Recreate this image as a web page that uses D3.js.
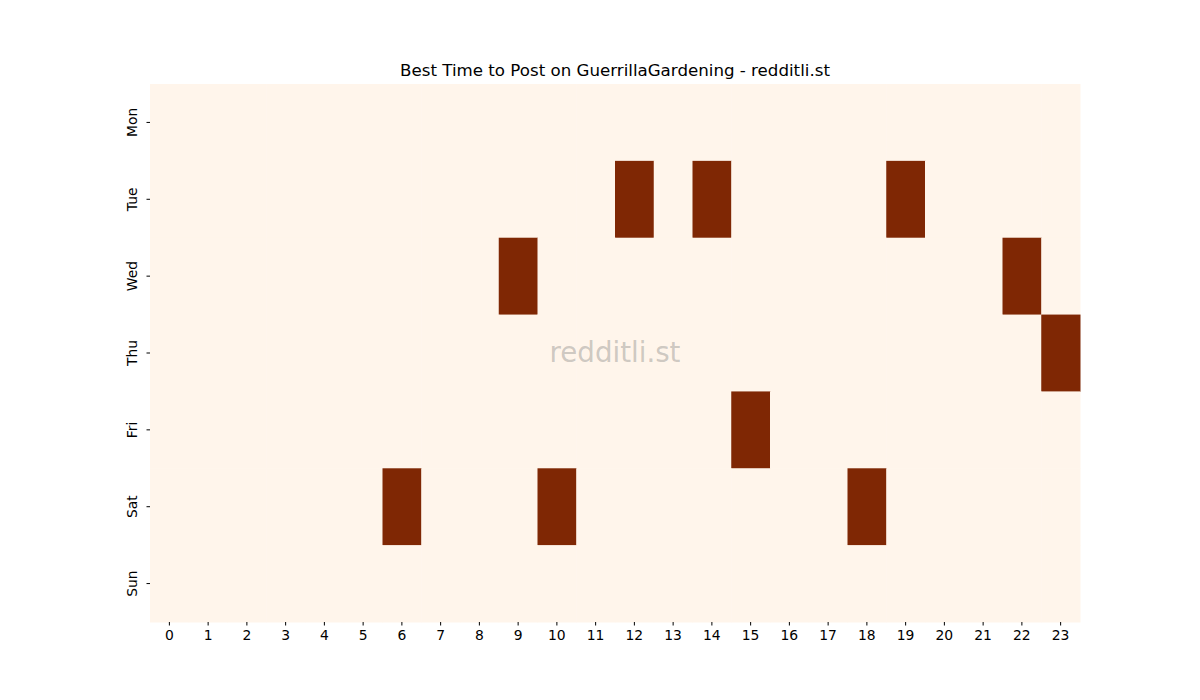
<!DOCTYPE html>
<html>
<head>
<meta charset="utf-8">
<script src="https://cdn.jsdelivr.net/npm/d3@7"></script>
<style>
  body { margin: 0; background: #fff; }
  svg text { font-family: "DejaVu Sans", sans-serif; }
</style>
</head>
<body>
<div id="chart"></div>
<script>
// Data
const days = ["Mon", "Tue", "Wed", "Thu", "Fri", "Sat", "Sun"];
const hours = d3.range(24);
// hours flagged as best for each day (value 1), everything else 0
const bestHours = {
    Mon: [],
    Tue: [12, 14, 19],
    Wed: [9, 22],
    Thu: [23],
    Fri: [15],
    Sat: [6, 10, 18],
    Sun: []
};

const W = 1200, H = 700;
const margin = { top: 84, right: 120, bottom: 78, left: 150 };
const width = W - margin.left - margin.right;
const height = H - margin.top - margin.bottom;

const cells = [];
days.forEach(day => hours.forEach(h => {
    cells.push({ day, hour: h, value: bestHours[day].includes(h) ? 1 : 0 });
}));

const svg = d3.select("#chart").append("svg").attr("width", W).attr("height", H);
const g = svg.append("g").attr("transform", `translate(${margin.left},${margin.top})`);

const x = d3.scaleBand().domain(hours).range([0, width]);
const y = d3.scaleBand().domain(days).range([0, height]);
const color = d3.scaleSequential(d3.interpolateOranges).domain([0, 1]);

// Cells
g.selectAll("rect.cell").data(cells).enter().append("rect")
    .attr("class", "cell")
    .attr("x", d => x(d.hour))
    .attr("y", d => y(d.day))
    .attr("width", x.bandwidth() + 0.5)
    .attr("height", y.bandwidth() + 0.5)
    .attr("fill", d => color(d.value));

// Axes
const xAxis = g.append("g").attr("transform", `translate(0,${height})`)
    .call(d3.axisBottom(x).tickSize(3.5).tickPadding(5));
xAxis.select(".domain").remove();
xAxis.selectAll("text").style("font-size", "13.9px").attr("fill", "#000");
xAxis.selectAll("line").attr("stroke", "#000");

const yAxis = g.append("g")
    .call(d3.axisLeft(y).tickSize(3.5).tickPadding(5));
yAxis.select(".domain").remove();
yAxis.selectAll("line").attr("stroke", "#000");
yAxis.selectAll("text")
    .style("font-size", "13.9px")
    .attr("fill", "#000")
    .attr("text-anchor", "middle")
    .attr("dy", null)
    .attr("x", null)
    .attr("transform", "translate(-18,0) rotate(-90)")
    .attr("dominant-baseline", "central");

// Title
svg.append("text")
    .attr("x", margin.left + width / 2)
    .attr("y", margin.top - 8)
    .attr("text-anchor", "middle")
    .style("font-size", "16.67px")
    .attr("fill", "#000")
    .text("Best Time to Post on GuerrillaGardening - redditli.st");

// Watermark
svg.append("text")
    .attr("x", margin.left + width / 2)
    .attr("y", margin.top + height / 2 + 9)
    .attr("text-anchor", "middle")
    .style("font-size", "27.7px")
    .attr("fill", "#808080")
    .attr("fill-opacity", 0.4)
    .text("redditli.st");
</script>
</body>
</html>
